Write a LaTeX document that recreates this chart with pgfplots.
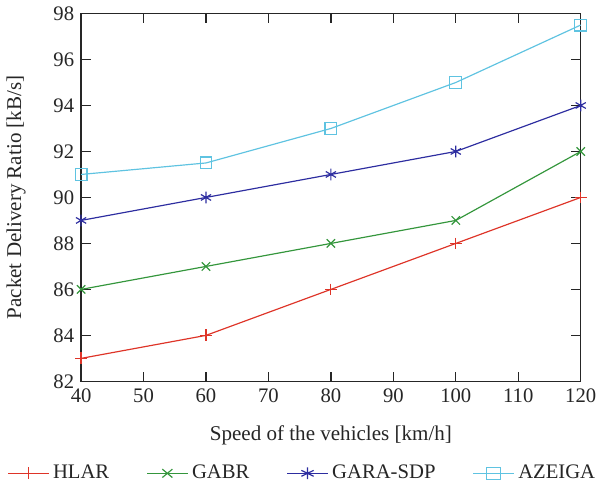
\documentclass[border=0pt]{standalone}
\usepackage{fontspec}
\setmainfont{Liberation Serif}
\usepackage{pgfplots}
\pgfplotsset{compat=1.18}
\definecolor{hlar}{RGB}{222,52,40}
\definecolor{gabr}{RGB}{52,150,60}
\definecolor{gara}{RGB}{45,45,160}
\definecolor{azeiga}{RGB}{95,195,225}
\begin{document}
\begin{tikzpicture}
\begin{axis}[
    scale only axis,
    width=254pt, height=187pt,
    xmin=40, xmax=120, ymin=82, ymax=98,
    xtick={40,50,...,120}, ytick={82,84,...,98},
    tick align=inside,
    major tick length=5pt,
    axis line style={line width=0.7pt, black!85},
    tick style={line width=0.7pt, black!85},
    clip=false,
    /pgf/number format/assume math mode=true,
    tick label style={font=\fontsize{10.5}{12}\selectfont, black!85},
    label style={font=\fontsize{10.7}{12}\selectfont, black!85},
    xlabel={Speed of the vehicles [km/h]},
    ylabel={Packet Delivery Ratio [kB/s]},
    xlabel style={at={(axis description cs:0.5,-0.148)}, anchor=center},
    ylabel style={at={(axis description cs:-0.13,0.5)}, anchor=center},
    legend columns=4,
    legend style={draw=none, font=\fontsize{10.5}{12}\selectfont,
        text=black!85,
        at={(0.5,-0.25)}, anchor=center, xshift=-14pt,
        /tikz/every even column/.append style={column sep=17pt}},
    legend cell align=left,
    legend image post style={xscale=1.2},
    every axis plot/.append style={line width=0.6pt, mark size=3pt},
]
\addplot[color=hlar, mark=+] coordinates {(40,83) (60,84) (80,86) (100,88) (120,90)};
\addlegendentry{HLAR}
\addplot[color=gabr, mark=x] coordinates {(40,86) (60,87) (80,88) (100,89) (120,92)};
\addlegendentry{GABR}
\addplot[color=gara, mark=asterisk] coordinates {(40,89) (60,90) (80,91) (100,92) (120,94)};
\addlegendentry{GARA-SDP}
\addplot[color=azeiga, mark=square] coordinates {(40,91) (60,91.5) (80,93) (100,95) (120,97.5)};
\addlegendentry{AZEIGA}
\end{axis}
\end{tikzpicture}
\end{document}
